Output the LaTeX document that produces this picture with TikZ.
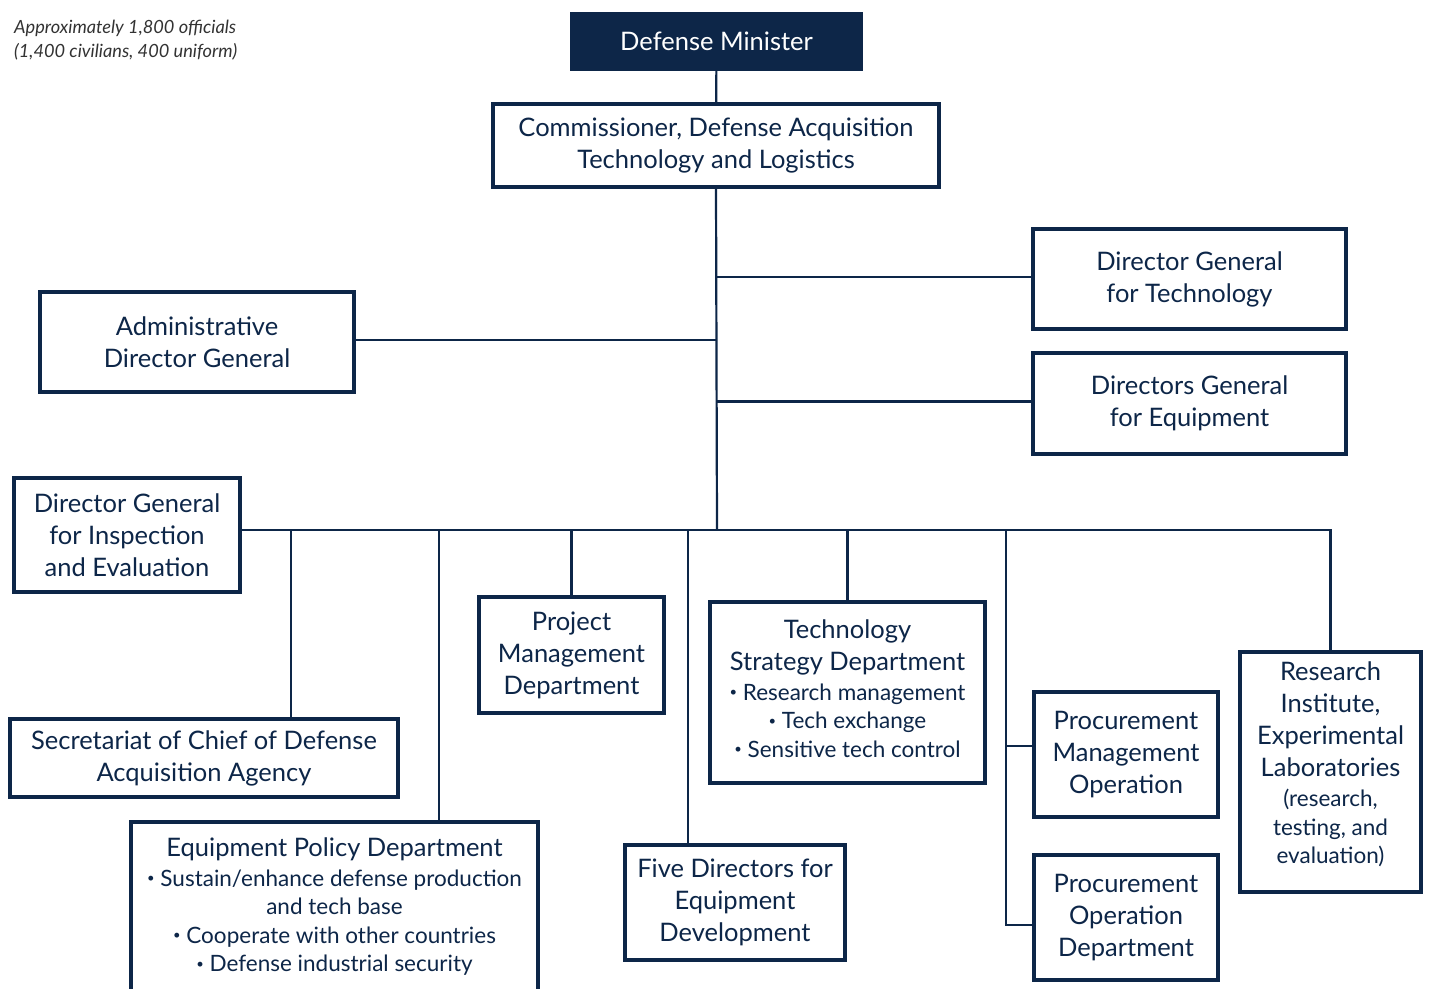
\documentclass[tikz,border=0pt]{standalone}
\usepackage{fontspec}
\setmainfont{Lato}
\usepackage{xcolor}
\usepackage{tikz}
\usetikzlibrary{calc}
\definecolor{navy}{HTML}{0D2648}
\newcommand{\boxtxt}{\fontsize{25.5}{32}\selectfont}
\newcommand{\listtxt}{\fontsize{22.5}{28.5}\selectfont}
% one line of a list, with a small raised bullet
\newcommand{\li}[1]{\listtxt\raisebox{3.5pt}{\fontsize{13}{13}\selectfont •}\ #1}
\tikzset{
  box/.style  = {draw=navy, line width=4pt, fill=white, text=navy, align=center,
                 inner sep=2pt, font=\boxtxt},
  dark/.style = {fill=navy, text=white, align=center, inner sep=2pt, font=\boxtxt},
  ln/.style   = {draw=navy, line width=2.2pt},
  note/.style = {text=black!80, align=left, anchor=north west, inner sep=0pt,
                 font=\fontsize{18.2}{24}\selectfont\itshape},
}

\begin{document}
\begin{tikzpicture}[x=1pt, y=-1pt]
  \clip (0,0) rectangle (1429,988);
  \fill[white] (0,0) rectangle (1429,988);

  \node[note] (cnt) at (14,20) {Approximately 1,800 officials\\(1,400 civilians, 400 uniform)};

  % top of the chain
  \node[dark, minimum width=293pt, minimum height=59pt] (dm) at (716.5,41.5) {Defense Minister};
  \node[box, minimum width=446pt, minimum height=83pt] (comm) at (716,145.5)
       {Commissioner, Defense Acquisition\\Technology and Logistics};

  % side offices
  \node[box, minimum width=313pt, minimum height=100pt] (dgtech) at (1189.5,279)
       {Director General\\for Technology};
  \node[box, minimum width=313pt, minimum height=101pt] (dgequip) at (1189.5,403.5)
       {Directors General\\for Equipment};
  \node[box, minimum width=314pt, minimum height=100pt] (admin) at (197,342)
       {Administrative\\Director General};
  \node[box, minimum width=226pt, minimum height=114pt] (dginsp) at (127,535)
       {Director General\\for Inspection\\and Evaluation};

  % departments under the bus
  \node[box, minimum width=388pt, minimum height=78pt] (secr) at (204,758)
       {Secretariat of Chief of Defense\\Acquisition Agency};
  \node[box, minimum width=185pt, minimum height=116pt] (pmd) at (571.5,655)
       {Project\\Management\\Department};
  \node[box, minimum width=275pt, minimum height=181pt, text depth=8.5pt] (tsd) at (847.5,692.5)
       {Technology\\Strategy Department\\[-2pt]
        \li{Research management}\\[-3.5pt]
        \li{Tech exchange}\\[-3.5pt]
        \li{Sensitive tech control}};
  \node[box, minimum width=407pt, minimum height=178pt, text depth=12.5pt] (epd) at (334.5,911)
       {Equipment Policy Department\\[-2pt]
        \li{Sustain/enhance defense production}\\[-3.5pt]
        \listtxt and tech base\\[-3.5pt]
        \li{Cooperate with other countries}\\[-3.5pt]
        \li{Defense industrial security}};
  \node[box, minimum width=220pt, minimum height=115pt] (five) at (735,902.5)
       {Five Directors for\\Equipment\\Development};
  \node[box, minimum width=184pt, minimum height=125pt] (pmo) at (1126,754.5)
       {Procurement\\Management\\Operation};
  \node[box, minimum width=184pt, minimum height=125pt] (pod) at (1126,917.5)
       {Procurement\\Operation\\Department};
  \node[box, minimum width=181pt, minimum height=240pt, text depth=18.5pt] (ri) at (1330.5,772)
       {Research\\Institute,\\Experimental\\Laboratories\\[-2pt]
        \listtxt (research,\\[-3.5pt]
        \listtxt testing, and\\[-3.5pt]
        \listtxt evaluation)};

  % bus and its drop points
  \coordinate (hub)   at (717,530);
  \coordinate (bsec)  at (291,530);
  \coordinate (bepd)  at (439,530);
  \coordinate (bfive) at (688,530);
  \coordinate (bproc) at (1006,530);

  \draw[ln] (dm) -- (comm);
  \draw[ln] (comm.south) -- (hub);
  \draw[ln] ([yshift=2pt]dgtech.west) -- ([yshift=2pt]dgtech.west -| hub);
  \draw[ln] ([yshift=2pt]dgequip.west) -- ([yshift=2pt]dgequip.west -| hub);
  \draw[ln] ([yshift=2pt]admin.east) -- ([yshift=2pt]admin.east -| hub);
  \draw[ln] (dginsp.east |- hub) -- (hub) -- (hub -| ri.north) -- (ri.north);
  \draw[ln] (bsec) -- (bsec |- secr.north);
  \draw[ln] (bepd) -- (bepd |- epd.north);
  \draw[ln] (hub -| pmd.north) -- (pmd.north);
  \draw[ln] (bfive) -- (bfive |- five.north);
  \draw[ln] (hub -| tsd.north) -- (tsd.north);
  \draw[ln] (bproc) -- ([yshift=-7.5pt]bproc |- pod.west) -- ([yshift=-7.5pt]pod.west);
  \draw[ln] ([yshift=8.5pt]bproc |- pmo.west) -- ([yshift=8.5pt]pmo.west);
\end{tikzpicture}
\end{document}
